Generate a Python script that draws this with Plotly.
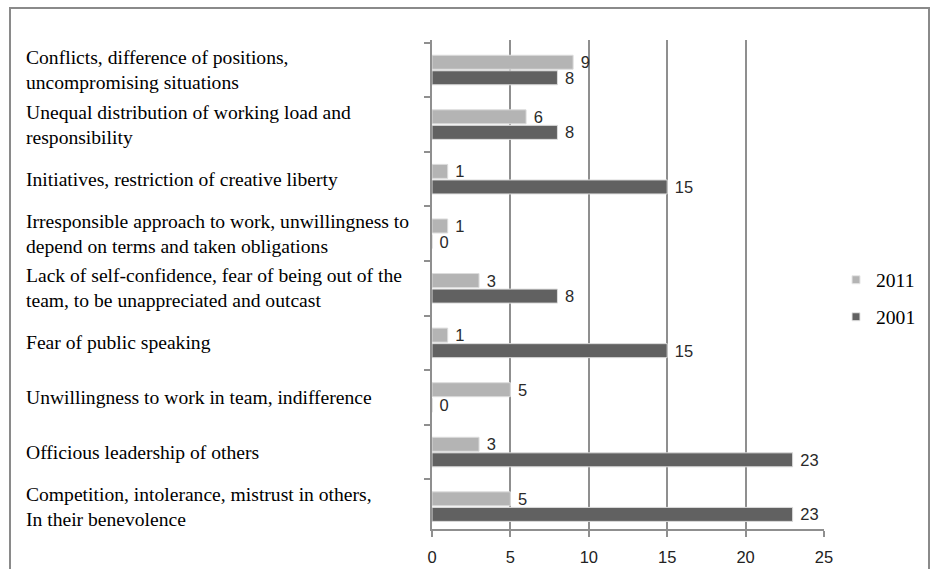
import plotly.graph_objects as go

categories = [
    "Conflicts, difference of positions,<br>uncompromising situations",
    "Unequal distribution of working load and<br>responsibility",
    "Initiatives, restriction of creative liberty",
    "Irresponsible approach to work, unwillingness to<br>depend on terms and taken obligations",
    "Lack of self-confidence, fear of being out of the<br>team, to be unappreciated and outcast",
    "Fear of public speaking",
    "Unwillingness to work in team, indifference",
    "Officious leadership of others",
    "Competition, intolerance, mistrust in others,<br>In their benevolence",
]
series_names = ["2011", "2001"]
values_2011 = [9, 6, 1, 1, 3, 1, 5, 3, 5]
values_2001 = [8, 8, 15, 0, 8, 15, 0, 23, 23]
x_tickvals = [0, 5, 10, 15, 20, 25]

colors = {"2011": "#b4b4b4", "2001": "#616161"}
serif = "Liberation Serif, Times New Roman, serif"
sans = "Liberation Sans, Arial, sans-serif"

W, H = 931, 569
L, R, T, B = 432, 107, 40, 40
pw, ph = W - L - R, H - T - B

fig = go.Figure()
for name, vals in zip(series_names, [values_2011, values_2001]):
    fig.add_trace(go.Bar(
        y=categories, x=vals, orientation="h", name=name,
        marker=dict(color=colors[name], line=dict(color="#dcdcdc", width=1)),
        text=vals, texttemplate="\u00a0%{x}", textposition="outside",
        constraintext="none", cliponaxis=False,
        textfont=dict(family=sans, size=16.5, color="#2a2a2a"),
        showlegend=False, hoverinfo="x+y",
    ))

# legend entries (small square markers)
for i, name in enumerate(series_names):
    fig.add_trace(go.Scatter(
        x=[None], y=[None], mode="markers", name=name,
        marker=dict(symbol="square", size=8, color=colors[name],
                    line=dict(color="#e6e6e6", width=1)),
        legend="legend" if i == 0 else "legend2",
    ))

for cat in categories:
    fig.add_annotation(
        x=(24 - L) / pw, xref="paper", y=cat, yref="y",
        text=cat, showarrow=False, xanchor="left", align="left",
        font=dict(family=serif, size=19.6, color="#000000"),
    )

# outer chart border
fig.add_shape(type="rect", xref="paper", yref="paper",
              x0=(10 - L) / pw, x1=(929 - L) / pw,
              y0=(H - B - 580) / ph, y1=(H - B - 8) / ph,
              line=dict(color="#8a8a8a", width=2), fillcolor="rgba(0,0,0,0)",
              layer="below")

legend_common = dict(font=dict(family=serif, size=19.6, color="#000000"),
                     bgcolor="rgba(0,0,0,0)", xanchor="left", yanchor="middle",
                     itemwidth=30)
fig.update_layout(
    width=W, height=H,
    margin=dict(l=L, r=R, t=T, b=B, autoexpand=False),
    paper_bgcolor="white", plot_bgcolor="white",
    barmode="group", bargap=0.43, bargroupgap=0.1,
    legend=dict(x=(836 - L) / pw, y=(H - B - 280) / ph, **legend_common),
    legend2=dict(x=(836 - L) / pw, y=(H - B - 317) / ph, **legend_common),
    xaxis=dict(range=[0, 25], tickvals=x_tickvals, showgrid=True,
               gridcolor="#8f8f8f", gridwidth=2, zeroline=False,
               showline=True, linecolor="#8f8f8f", linewidth=2,
               ticks="outside", ticklen=6, tickwidth=2, tickcolor="#8f8f8f",
               ticklabelstandoff=6,
               tickfont=dict(family=sans, size=16.5, color="#222222")),
    yaxis=dict(type="category", range=[8.41, -0.55], showticklabels=False,
               showgrid=False, zeroline=False, showline=True,
               linecolor="#8f8f8f", linewidth=2, ticks="outside",
               tickson="boundaries", ticklen=6, tickwidth=2, tickcolor="#8f8f8f"),
)

fig.write_html("out.html", config={"displayModeBar": False},
               post_script="document.body.style.margin='0';document.body.style.overflow='hidden';")
